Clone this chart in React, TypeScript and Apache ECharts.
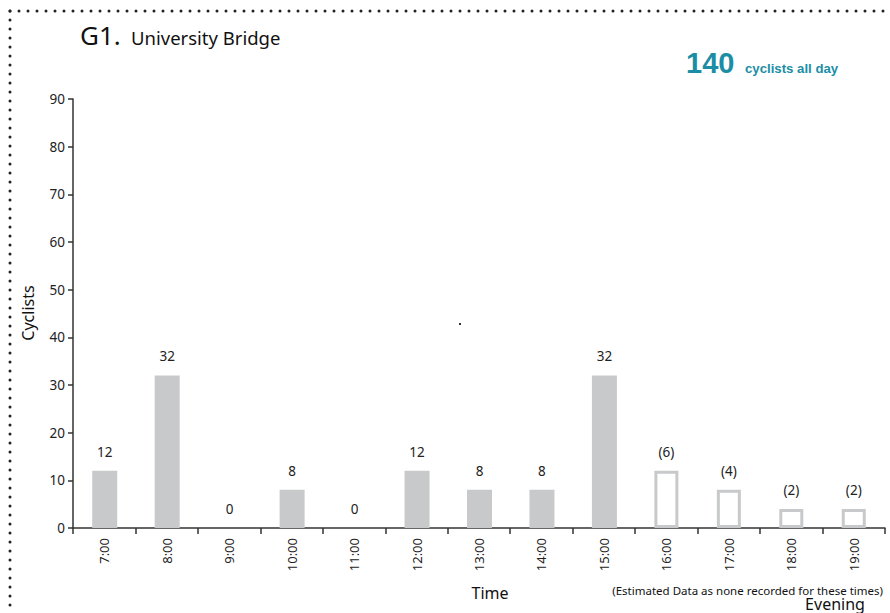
import React, { useEffect, useRef } from "react";
import * as echarts from "echarts";

const categories = ["7:00", "8:00", "9:00", "10:00", "11:00", "12:00", "13:00", "14:00", "15:00", "16:00", "17:00", "18:00", "19:00"];
const recorded: (number | null)[] = [12, 32, 0, 8, 0, 12, 8, 8, 32, null, null, null, null];
// drawn heights of the estimated (outlined) bars, as shown on the axis
const estimatedHeight: (number | null)[] = [null, null, null, null, null, null, null, null, null, 12, 8, 4, 4];
// labels printed above the estimated bars
const estimatedLabels: string[] = ["", "", "", "", "", "", "", "", "", "(6)", "(4)", "(2)", "(2)"];
const yTicks = [0, 10, 20, 30, 40, 50, 60, 70, 80, 90];

const FONT = "'Noto Sans', 'Open Sans', sans-serif";

export default function App() {
  const ref = useRef<HTMLDivElement>(null);
  useEffect(() => {
    if (!ref.current) return;
    const chart = echarts.init(ref.current, undefined, { renderer: "svg" });
    const option = {
      animation: false,
      backgroundColor: "#ffffff",
      textStyle: { fontFamily: FONT },
      grid: { left: 73, right: 5, top: 99, bottom: 85, containLabel: false },
      xAxis: {
        type: "category",
        data: categories,
        axisLine: { lineStyle: { color: "#333", width: 1.5 } },
        axisTick: { show: true, length: 6, lineStyle: { color: "#333", width: 1.5 } },
        axisLabel: { rotate: 90, margin: 10, fontSize: 13, color: "#222", fontFamily: FONT },
      },
      yAxis: {
        type: "value",
        min: yTicks[0],
        max: yTicks[yTicks.length - 1],
        interval: 10,
        splitLine: { show: false },
        axisLine: { show: true, lineStyle: { color: "#333", width: 1.5 } },
        axisTick: { show: true, length: 5, lineStyle: { color: "#333", width: 1.5 } },
        axisLabel: { fontSize: 13.5, color: "#222", margin: 8, fontFamily: FONT },
      },
      series: [
        {
          type: "bar",
          data: recorded,
          barWidth: 25,
          barGap: "-100%",
          itemStyle: { color: "#c8c9cb" },
          label: { show: true, position: "top", distance: 12, fontSize: 13.5, color: "#222", fontFamily: FONT },
        },
        {
          type: "bar",
          data: estimatedHeight,
          barWidth: 24,
          itemStyle: { color: "#ffffff", borderColor: "#c8c9cb", borderWidth: 3 },
          label: {
            show: true,
            position: "top",
            distance: 12,
            fontSize: 13.5,
            color: "#222",
            fontFamily: FONT,
            formatter: (p: any) => estimatedLabels[p.dataIndex],
          },
        },
      ],
      graphic: [
        { type: "line", shape: { x1: 10, y1: 11, x2: 890, y2: 11 }, style: { stroke: "#222", lineWidth: 3, lineDash: [0, 9], lineCap: "round" } },
        { type: "line", shape: { x1: 10, y1: 11, x2: 10, y2: 613 }, style: { stroke: "#222", lineWidth: 3, lineDash: [0, 9], lineCap: "round" } },
        { type: "text", x: 80, y: 48, style: { text: "G1.", font: `26px ${FONT}`, fill: "#111", textVerticalAlign: "bottom" } },
        { type: "text", x: 131, y: 47, style: { text: "University Bridge", font: `18.5px ${FONT}`, fill: "#111", textVerticalAlign: "bottom" } },
        { type: "text", x: 686, y: 77, style: { text: "140", font: `bold 29px 'Liberation Sans', Arial, sans-serif`, fill: "#1b8ea6", textVerticalAlign: "bottom" } },
        { type: "text", x: 745, y: 75, style: { text: "cyclists all day", font: `bold 13.2px 'Liberation Sans', Arial, sans-serif`, fill: "#1b8ea6", textVerticalAlign: "bottom" } },
        { type: "text", x: 28, y: 313, rotation: Math.PI / 2, style: { text: "Cyclists", font: `16px ${FONT}`, fill: "#111", textAlign: "center", textVerticalAlign: "middle" } },
        { type: "text", x: 490, y: 593, style: { text: "Time", font: `16px ${FONT}`, fill: "#111", textAlign: "center", textVerticalAlign: "middle" } },
        { type: "text", x: 883, y: 590, style: { text: "(Estimated Data as none recorded for these times)", font: `11.5px ${FONT}`, fill: "#111", textAlign: "right", textVerticalAlign: "middle" } },
        { type: "text", x: 835, y: 604, style: { text: "Evening", font: `16px ${FONT}`, fill: "#111", textAlign: "center", textVerticalAlign: "middle" } },
        { type: "rect", shape: { x: 459, y: 323, width: 2, height: 2 }, style: { fill: "#333" } },
      ],
    };
    chart.setOption(option as any);
    return () => chart.dispose();
  }, []);
  return <div ref={ref} style={{ position: "fixed", left: 0, top: 0, width: 890, height: 613 }} />;
}
